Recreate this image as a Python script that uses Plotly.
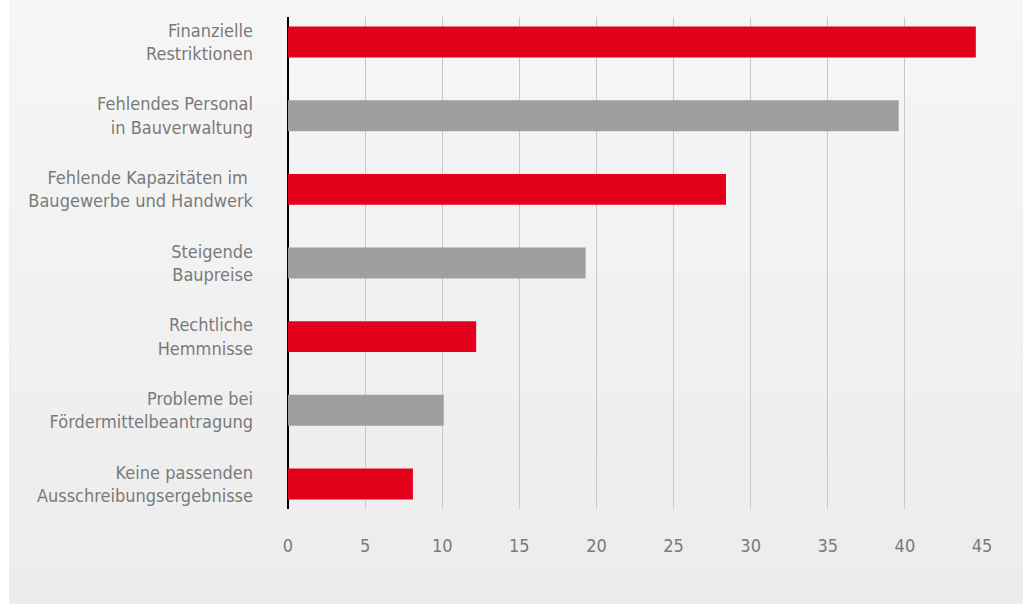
import plotly.graph_objects as go

categories = [
    "Finanzielle<br>Restriktionen",
    "Fehlendes Personal<br>in Bauverwaltung",
    "Fehlende Kapazitäten im <br>Baugewerbe und Handwerk",
    "Steigende<br>Baupreise",
    "Rechtliche<br>Hemmnisse",
    "Probleme bei<br>Fördermittelbeantragung",
    "Keine passenden<br>Ausschreibungsergebnisse",
]
values = [44.6, 39.6, 28.4, 19.3, 12.2, 10.1, 8.1]
bar_colors = ["#e2001a", "#9e9fa0", "#e2001a", "#9e9fa0", "#e2001a", "#9e9fa0", "#e2001a"]
x_ticks = [0, 5, 10, 15, 20, 25, 30, 35, 40, 45]

W, H = 1023, 604
L, R, T, B = 288, 41, 17, 95
pw, ph = W - L - R, H - T - B

fig = go.Figure(go.Bar(
    x=values, y=categories, orientation="h",
    marker=dict(color=bar_colors, line=dict(width=0)),
    width=0.42, hoverinfo="x+y",
))

# gradient background bands (paper coords)
x0 = (9 - L) / pw
x1 = (W - L) / pw
n = 60
shapes = []
for i in range(n):
    py0 = i * H / n
    py1 = (i + 1) * H / n + 0.5
    t = i / (n - 1)
    c = 246 - t * 10
    shapes.append(dict(
        type="rect", xref="paper", yref="paper", layer="below",
        x0=x0, x1=x1,
        y0=(H - B - py1) / ph, y1=(H - B - py0) / ph,
        fillcolor=f"rgb({c:.1f},{c:.1f},{c:.1f})", line=dict(width=0),
    ))

font_family = "DejaVu Sans Condensed, Liberation Sans Narrow, sans-serif"

fig.update_layout(
    width=W, height=H,
    margin=dict(l=L, r=R, t=T, b=B, pad=0, autoexpand=False),
    paper_bgcolor="white",
    plot_bgcolor="rgba(0,0,0,0)",
    shapes=shapes,
    showlegend=False,
    font=dict(family=font_family, size=18, color="#7a7a7a"),
    xaxis=dict(
        range=[0, 45], tickvals=x_ticks, showgrid=True, gridcolor="#c8c8c8", gridwidth=1,
        zeroline=True, zerolinecolor="#000000", zerolinewidth=2,
        showline=False, ticks="", ticklabelstandoff=24, automargin=False,
        tickfont=dict(size=18, color="#7a7a7a"),
    ),
    yaxis=dict(
        categoryorder="array", categoryarray=categories,
        range=[6.34, -0.34], showgrid=False, zeroline=False, showline=False,
        ticks="", ticklabelstandoff=34, automargin=False,
        tickfont=dict(size=18, color="#7a7a7a"),
    ),
)

fig.write_html(
    "out.html",
    config={"displayModeBar": False},
    post_script="document.body.style.margin='0';document.body.style.overflow='hidden';",
)
